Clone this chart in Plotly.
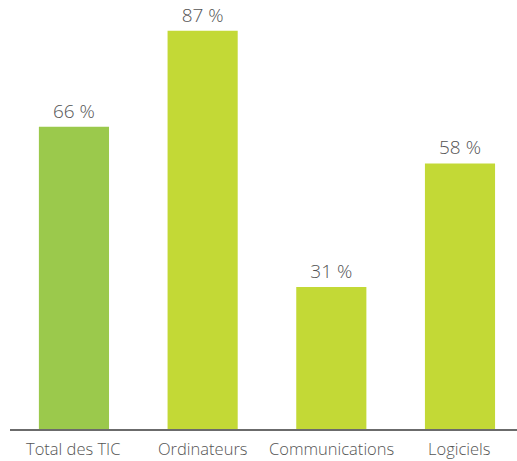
import plotly.graph_objects as go

# Share of ICT investment by category (percent)
categories = ["Total des TIC", "Ordinateurs", "Communications", "Logiciels"]
values = [66, 87, 31, 58]
colors = ["#9BC94C", "#C3D936", "#C3D936", "#C3D936"]

text_color = "#555555"

fig = go.Figure(
    go.Bar(
        x=categories,
        y=values,
        width=0.545,
        marker=dict(color=colors, line=dict(width=0)),
        text=[f"{v} %" for v in values],
        textposition="outside",
        textfont=dict(family="Open Sans", size=19, color=text_color, weight=300),
        cliponaxis=False,
    )
)

# Category names placed under the baseline
for cat in categories:
    fig.add_annotation(
        x=cat,
        y=0,
        xref="x",
        yref="paper",
        yanchor="top",
        yshift=-7,
        text=cat,
        showarrow=False,
        borderpad=0,
        font=dict(family="Open Sans", size=16.5, color=text_color, weight=300),
    )

fig.update_layout(
    width=517,
    height=461,
    margin=dict(l=10, r=0, t=0, b=32),
    paper_bgcolor="white",
    plot_bgcolor="white",
    showlegend=False,
    bargap=0.2,
    font=dict(family="Open Sans", color=text_color),
)

fig.update_xaxes(
    range=[-0.497, 3.443],
    automargin=False,
    showline=True,
    linecolor="#6b6b6b",
    linewidth=1.5,
    ticks="",
    showticklabels=False,
    showgrid=False,
)
fig.update_yaxes(
    range=[0, 93.7],
    visible=False,
    showgrid=False,
    zeroline=False,
)

fig.write_html("out.html")
